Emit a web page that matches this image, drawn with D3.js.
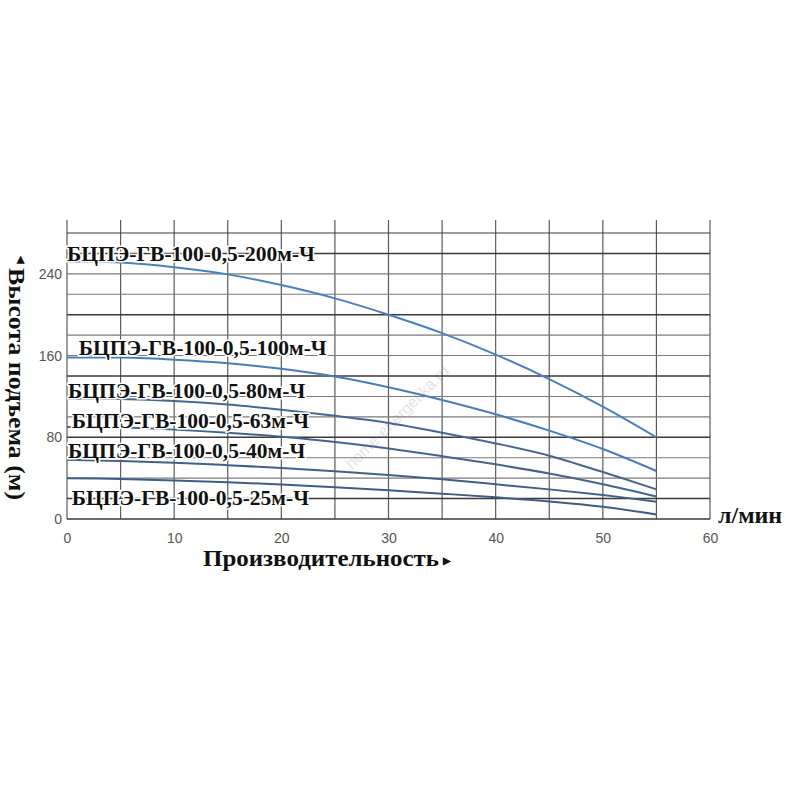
<!DOCTYPE html>
<html>
<head>
<meta charset="utf-8">
<script src="https://d3js.org/d3.v7.min.js"></script>
<style>
  body { margin: 0; background: #fff; }
  .serif { font-family: "Liberation Serif", "Times New Roman", serif; font-weight: bold; fill: #111; }
  .tick text { font-family: "Liberation Sans Narrow", "Liberation Sans", Arial, sans-serif; fill: #555; }
</style>
</head>
<body>
<div id="chart"></div>
<script>
// flow, l/min
const flow = [0, 5, 10, 15, 20, 25, 30, 35, 40, 45, 50, 55];

// pump models
const models = [
  "БЦПЭ-ГВ-100-0,5-200м-Ч",
  "БЦПЭ-ГВ-100-0,5-100м-Ч",
  "БЦПЭ-ГВ-100-0,5-80м-Ч",
  "БЦПЭ-ГВ-100-0,5-63м-Ч",
  "БЦПЭ-ГВ-100-0,5-40м-Ч",
  "БЦПЭ-ГВ-100-0,5-25м-Ч"
];

// head, m
const head200 = [252, 251, 246.5, 239.5, 229, 216, 200, 182, 161, 137, 110, 80];
const head100 = [158, 158, 156, 152.5, 147, 139.5, 129, 116.5, 102.5, 86.5, 68.5, 47];
const head80  = [118, 117.5, 115.5, 112, 107, 101, 94, 84.5, 74, 62, 46, 29];
const head63  = [90, 89.5, 87.5, 84.5, 80.5, 75.5, 69, 61.5, 53.5, 44.5, 34, 22];
const head40  = [58, 56.8, 55, 52.7, 50, 46.8, 43, 38.8, 34, 29, 23.5, 17];
const head25  = [40, 39.2, 37.8, 36, 33.8, 31.2, 28.2, 24.8, 21.2, 17.2, 12, 4.5];

const xTicks = [0, 10, 20, 30, 40, 50, 60];
const yTicks = [0, 80, 160, 240];
const xGrid = [0, 5, 10, 15, 20, 25, 30, 35, 40, 45, 50, 55, 60];
const yGrid = [0, 20, 40, 60, 80, 100, 120, 140, 160, 180, 200, 220, 240, 260, 280];

const heads = [head200, head100, head80, head63, head40, head25];

// where each model name sits, in data units
const labelAt = [
  {x: 0, y: 252.6},
  {x: 1.1, y: 160.6},
  {x: 0.1, y: 118.5},
  {x: 0.45, y: 89.1},
  {x: 0.1, y: 59.7},
  {x: 0.45, y: 13.7}
];
const lineColors = ["#4a80bd", "#4a7db8", "#46688f", "#44648a", "#416088", "#3f5e85"];

const width = 800, height = 800;

const svg = d3.select("#chart")
  .append("svg")
    .attr("width", width)
    .attr("height", height);

const x = d3.scaleLinear().domain([0, 60]).range([67, 710]);
const y = d3.scaleLinear().domain([0, 280]).range([519, 233]);

// watermark
svg.append("text")
  .attr("transform", "translate(352,470) rotate(-45)")
  .style("font-family", "Liberation Sans, Arial, sans-serif")
  .style("font-size", "16px")
  .style("fill", "#e4e4e4")
  .text("home-energetika.ru");

// grid
svg.append("g")
  .selectAll("line")
  .data(xGrid)
  .join("line")
    .attr("x1", d => x(d)).attr("x2", d => x(d))
    .attr("y1", y(0)).attr("y2", y(280) - 13)
    .attr("stroke", "#5a5a5a")
    .attr("stroke-width", 1.2);

svg.append("g")
  .selectAll("line")
  .data(yGrid)
  .join("line")
    .attr("x1", x(0)).attr("x2", x(60))
    .attr("y1", d => y(d)).attr("y2", d => y(d))
    .attr("stroke", d => (d % 60 === 20 || d === 0 || d === 280) ? "#3a3a3a" : "#7a7a7a")
    .attr("stroke-width", d => (d % 60 === 20 || d === 0) ? 1.6 : 1.1);

// axes (labels only)
svg.append("g")
  .attr("transform", `translate(${x(0)},0)`)
  .call(d3.axisLeft(y).tickValues(yTicks).tickSize(0).tickPadding(5))
  .call(g => g.select(".domain").remove())
  .selectAll("text").style("font-size", "14px");

svg.append("g")
  .attr("transform", `translate(0,${y(0)})`)
  .call(d3.axisBottom(x).tickValues(xTicks).tickSize(0).tickPadding(14))
  .call(g => g.select(".domain").remove())
  .selectAll("text").style("font-size", "14px");

// curves
const line = d3.line()
  .x((d, i) => x(flow[i]))
  .y(d => y(d))
  .curve(d3.curveCatmullRom.alpha(0.5));

svg.append("g")
  .selectAll("path")
  .data(heads)
  .join("path")
    .attr("d", d => line(d))
    .attr("fill", "none")
    .attr("stroke", (d, i) => lineColors[i])
    .attr("stroke-width", 2);

// model names
svg.append("g")
  .selectAll("text")
  .data(models)
  .join("text")
    .attr("class", "serif")
    .attr("x", (d, i) => x(labelAt[i].x))
    .attr("y", (d, i) => y(labelAt[i].y))
    .style("font-size", "21.5px")
    .style("stroke", "#fff")
    .style("stroke-width", 3)
    .style("paint-order", "stroke")
    .text(d => d);

// axis titles
svg.append("text")
  .attr("class", "serif")
  .attr("x", 203)
  .attr("y", 566)
  .attr("textLength", 236)
  .attr("lengthAdjust", "spacingAndGlyphs")
  .style("font-size", "23px")
  .text("Производительность");
svg.append("text")
  .attr("class", "serif")
  .attr("x", 443)
  .attr("y", 564)
  .style("font-size", "10px")
  .text("▶");

svg.append("text")
  .attr("class", "serif")
  .attr("x", 718)
  .attr("y", 523)
  .style("font-size", "24px")
  .text("л/мин");

svg.append("text")
  .attr("class", "serif")
  .attr("transform", "translate(9,268) rotate(90)")
  .attr("textLength", 232)
  .attr("lengthAdjust", "spacingAndGlyphs")
  .style("font-size", "24px")
  .text("Высота подъема (м)");
svg.append("text")
  .attr("class", "serif")
  .attr("transform", "translate(18,256) rotate(90)")
  .style("font-size", "10px")
  .text("◀");
</script>
</body>
</html>
